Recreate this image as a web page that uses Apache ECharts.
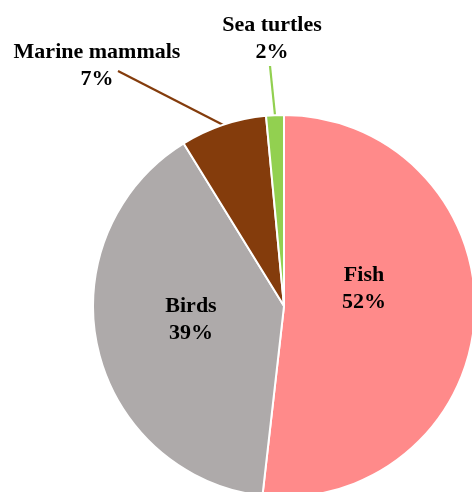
<!DOCTYPE html>
<html>
<head>
<meta charset="utf-8">
<script src="https://cdn.jsdelivr.net/npm/echarts@6/dist/echarts.min.js"></script>
<style>
html, body { margin: 0; padding: 0; background: #fff; }
#main { width: 472px; height: 492px; }
</style>
</head>
<body>
<div id="main"></div>
<script>
// data
var categories = ['Fish', 'Birds', 'Marine mammals', 'Sea turtles'];
var shares = [51.8, 39.4, 7.3, 1.5];
var sliceColors = ['#FF8A8A', '#AEAAAA', '#843C0C', '#92D050'];

// where each two-line label sits (centre) and where its leader line ends
var labelSpots = [
	{ x: 364, y: 289 },
	{ x: 191, y: 320 },
	{ x: 97, y: 66, lineEnd: [118, 71] },
	{ x: 272, y: 39, lineEnd: [270, 66] }
];

var pieData = categories.map(function(name, i) {
	var outside = !!labelSpots[i].lineEnd;
	return {
		name: name,
		value: shares[i],
		itemStyle: { color: sliceColors[i] },
		label: { position: outside ? 'outside' : 'inside' },
		labelLine: { show: outside }
	};
});

var myChart = echarts.init(document.getElementById('main'));
var option = {
	animation: false,
	series: [{
		type: 'pie',
		center: [284, 306],
		radius: 191,
		startAngle: 90,
		clockwise: true,
		percentPrecision: 0,
		avoidLabelOverlap: false,
		itemStyle: { borderColor: '#fff', borderWidth: 2 },
		label: {
			formatter: '{b}\n{d}%',
			fontFamily: 'Liberation Serif',
			fontWeight: 'bold',
			fontSize: 22,
			lineHeight: 27,
			color: '#000'
		},
		labelLine: {
			length: 10,
			length2: 0,
			lineStyle: { width: 2.2 }
		},
		labelLayout: function(params) {
			var s = labelSpots[params.dataIndex];
			var out = { x: s.x, y: s.y, align: 'center', verticalAlign: 'middle' };
			if (s.lineEnd && params.labelLinePoints) {
				out.labelLinePoints = [params.labelLinePoints[0], s.lineEnd];
			}
			return out;
		},
		emphasis: { disabled: true },
		data: pieData
	}]
};
myChart.setOption(option);
</script>
</body>
</html>
